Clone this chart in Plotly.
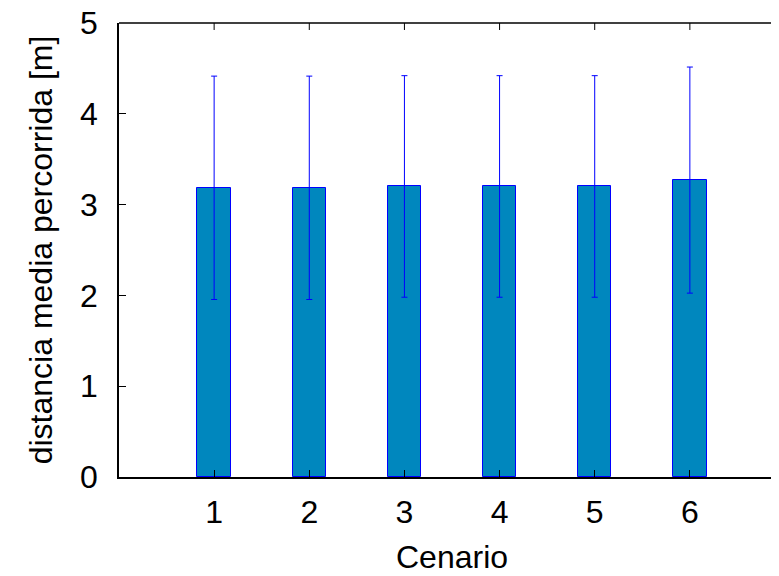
import plotly.graph_objects as go

cenarios = [1, 2, 3, 4, 5, 6]
media = [3.185, 3.185, 3.20, 3.20, 3.20, 3.27]
desvio = [1.23, 1.23, 1.22, 1.22, 1.22, 1.245]
y_ticks = [0, 1, 2, 3, 4, 5]

W, H = 779, 576
OFF = 8  # page body margin
L = 118.8 - OFF
T = 22.7 - OFF
B = H - (477.5 - OFF)
R = W - (785.2 - OFF)
plot_w = W - L - R
plot_h = H - T - B
TICK = 7

fig = go.Figure()
fig.add_trace(go.Bar(
    x=cenarios, y=media, width=0.35,
    marker=dict(color="rgb(0,135,190)", line=dict(color="#0000ff", width=1)),
    error_y=dict(type="data", array=desvio, visible=True, color="#0000ff",
                 thickness=1, width=3),
    showlegend=False,
))

# top border and mirrored ticks
fig.add_shape(type="line", xref="paper", yref="paper", x0=0, x1=1, y0=1, y1=1,
              line=dict(color="black", width=1.5))
for c in cenarios:
    fig.add_shape(type="line", xref="x", yref="paper", x0=c, x1=c,
                  y0=1, y1=1 - TICK / plot_h, line=dict(color="black", width=1))
for v in y_ticks:
    fig.add_shape(type="line", xref="paper", yref="y", x0=1, x1=1 - TICK / plot_w,
                  y0=v, y1=v, line=dict(color="black", width=1))

font = dict(family="Liberation Sans, Arial, sans-serif", size=32, color="black")

fig.update_layout(
    width=W, height=H,
    margin=dict(l=L, r=R, t=T, b=B, pad=0, autoexpand=False),
    paper_bgcolor="white", plot_bgcolor="white",
    font=font,
    bargap=0,
    xaxis=dict(range=[0, 7], tickmode="array", tickvals=cenarios,
               ticktext=[str(c) for c in cenarios],
               ticks="inside", ticklen=TICK, tickcolor="black", tickwidth=1,
               showline=True, linecolor="black", linewidth=1.5, mirror=False,
               showgrid=False, zeroline=False, automargin=False,
               ticklabelstandoff=6, ticklabeloverflow="allow",
               title=dict(text="Cenario", font=font, standoff=16)),
    yaxis=dict(range=[0, 5], tickmode="array", tickvals=y_ticks,
               ticks="inside", ticklen=TICK, tickcolor="black", tickwidth=1,
               showline=True, linecolor="black", linewidth=1.5, mirror=False,
               showgrid=False, zeroline=False, automargin=False,
               ticklabelstandoff=13, ticklabeloverflow="allow",
               title=dict(text="distancia media percorrida [m]", font=font, standoff=18)),
)

fig.write_html("out.html")
